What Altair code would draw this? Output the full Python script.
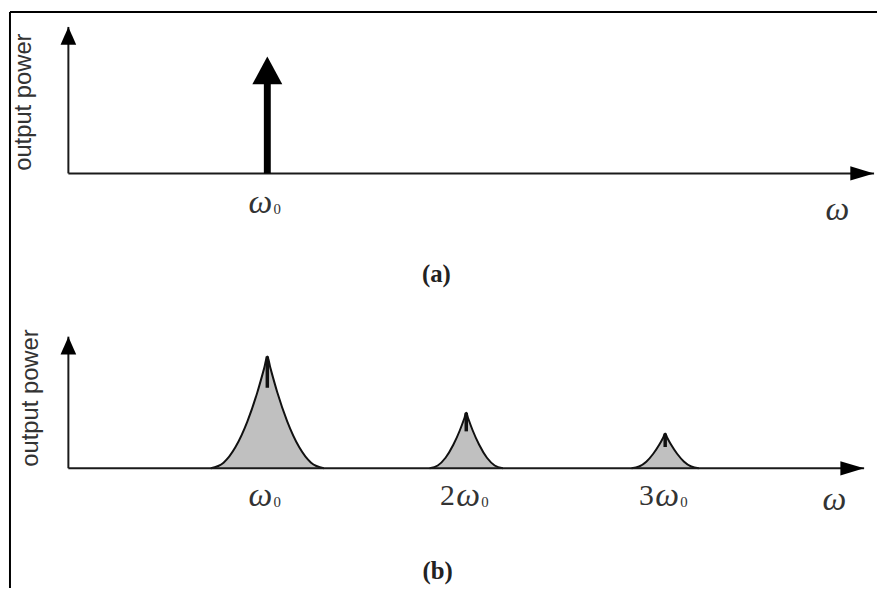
import altair as alt
import pandas as pd

# ---------------- data (x in units of ω0, y = relative output power) ----------------
# panel (a): ideal single spectral line at ω0
a_line_x = [1.0]
a_line_top = [1.0]
a_line_shaft_top = [0.77]
a_axis_xmax = 4.05
a_axis_ymax = 1.254

# panel (b): broadened harmonics at ω0, 2ω0, 3ω0
b_peak1_x = [0.716, 0.78, 0.84, 0.90, 0.95, 0.985, 1.0, 1.015, 1.05, 1.10, 1.16, 1.22, 1.284]
b_peak1_y = [0, 0.05, 0.19, 0.42, 0.68, 0.90, 1.0, 0.90, 0.68, 0.42, 0.19, 0.05, 0]
b_peak2_x = [1.816, 1.857, 1.896, 1.935, 1.968, 1.990, 2.0, 2.010, 2.032, 2.065, 2.104, 2.143, 2.184]
b_peak2_y = [0, 0.025, 0.094, 0.21, 0.34, 0.445, 0.496, 0.445, 0.34, 0.21, 0.094, 0.025, 0]
b_peak3_x = [2.831, 2.869, 2.905, 2.940, 2.970, 2.991, 3.0, 3.009, 3.030, 3.060, 3.095, 3.131, 3.169]
b_peak3_y = [0, 0.016, 0.059, 0.13, 0.21, 0.278, 0.31, 0.278, 0.21, 0.13, 0.059, 0.016, 0]
b_spike_x = [1.0, 2.0, 3.0]
b_spike_top = [1.0, 0.496, 0.31]
b_spike_base = [0.72, 0.33, 0.19]
b_axis_xmax = 4.0
b_axis_ymax = 1.177

# tick labels
harm_x = [1, 2, 3]
harm_coef = ["", "2", "3"]
y_title = "output power"
x_title = "ω"
captions = ["(a)", "(b)"]

# ---------------- layout / style ----------------
W = 870
HA, HB = 292, 290
XS = alt.Scale(domain=[-0.3035, 4.025], nice=False, zero=False)
YSA = alt.Scale(domain=[-1.092, 1.382], nice=False, zero=False)
YSB = alt.Scale(domain=[-1.071, 1.496], nice=False, zero=False)

UP = "M0,0L-0.44,1L0.44,1Z"
BIG_UP = "M0,0L-0.54,1L0.54,1Z"
RIGHT = "M0,0L-1,-0.3L-1,0.3Z"
AXC = "#1a1a1a"
SERIF = "Liberation Serif"


def X(field="x"):
    return alt.X(f"{field}:Q", scale=XS, axis=None)


def text_at(txt, pos, ys, **style):
    return alt.Chart(pd.DataFrame({"t": [txt]})).mark_text(**style).encode(
        x=alt.X("px:Q", scale=XS, axis=None), y=alt.Y("py:Q", scale=ys, axis=None), text="t:N"
    ).transform_calculate(px=str(pos[0]), py=str(pos[1]))


def panel(ys, h, axis_xmax, axis_ymax, caption, ytitle_pos, xtitle_pos, caption_pos, top_border):
    Y = lambda f: alt.Y(f"{f}:Q", scale=ys, axis=None)
    layers = []
    one = pd.DataFrame({"k": [0]})
    layers.append(alt.Chart(one).mark_rule(color="black", strokeWidth=2).encode(
        x=alt.value(2), y=alt.value(0), y2=alt.value(h)))
    if top_border:
        layers.append(alt.Chart(one).mark_rule(color="black", strokeWidth=2).encode(
            x=alt.value(2), x2=alt.value(W + 8), y=alt.value(0)))
    ax = pd.DataFrame({"x0": [0.0], "y0": [0.0], "xm": [axis_xmax], "ym": [axis_ymax]})
    base = alt.Chart(ax)
    layers.append(base.mark_rule(color=AXC, strokeWidth=2).encode(
        x=X("x0"), y=Y("y0"), y2=alt.Y2("ym:Q")))
    layers.append(base.mark_rule(color=AXC, strokeWidth=2).encode(
        x=X("x0"), x2=alt.X2("xm:Q"), y=Y("y0")))
    layers.append(base.mark_point(shape=UP, filled=True, size=1296, color="black", opacity=1, strokeWidth=0).encode(
        x=X("x0"), y=Y("ym")))
    layers.append(base.mark_point(shape=RIGHT, filled=True, size=2304, color="black", opacity=1, strokeWidth=0).encode(
        x=X("xm"), y=Y("y0")))
    layers.append(text_at(y_title, ytitle_pos, ys, angle=270, font="Liberation Sans", fontSize=24,
                          color="#333", align="center", baseline="middle"))
    layers.append(text_at(x_title, xtitle_pos, ys, font=SERIF, fontStyle="italic", fontSize=34,
                          color="#333", align="center", baseline="middle"))
    layers.append(text_at(caption, caption_pos, ys, font=SERIF, fontWeight="bold", fontSize=25,
                          color="#222", align="center", baseline="middle"))
    return layers, Y


def harmonic_labels(df, ys, level):
    out = []
    ch = alt.Chart(df).transform_calculate(ly=str(level))
    Y = alt.Y("ly:Q", scale=ys, axis=None)
    plain = ch.transform_filter("datum.coef == ''")
    mult = ch.transform_filter("datum.coef != ''")
    wstyle = dict(font=SERIF, fontStyle="italic", fontSize=34, color="#333", baseline="middle", align="center")
    sstyle = dict(font=SERIF, fontSize=15, color="#333", baseline="middle", align="center")
    out.append(plain.mark_text(dx=-7, **wstyle).encode(x=X(), y=Y, text=alt.value("ω")))
    out.append(plain.mark_text(dx=10, dy=6, **sstyle).encode(x=X(), y=Y, text=alt.value("0")))
    out.append(mult.mark_text(dx=-19, font=SERIF, fontSize=30, color="#333", baseline="middle", align="center").encode(
        x=X(), y=Y, text="coef:N"))
    out.append(mult.mark_text(dx=2, **wstyle).encode(x=X(), y=Y, text=alt.value("ω")))
    out.append(mult.mark_text(dx=19, dy=6, **sstyle).encode(x=X(), y=Y, text=alt.value("0")))
    return out


# ---------------- panel (a) ----------------
la, YA = panel(YSA, HA, a_axis_xmax, a_axis_ymax, captions[0], (-0.224, 0.61), (3.866, -0.31),
               (1.85, -0.864), True)
line_df = pd.DataFrame({"x": a_line_x, "top": a_line_top, "shaft": a_line_shaft_top, "zero": [0.0] * len(a_line_x)})
la.append(alt.Chart(line_df).mark_rule(color="black", strokeWidth=7).encode(
    x=X(), y=YA("zero"), y2=alt.Y2("shaft:Q")))
la.append(alt.Chart(line_df).mark_point(shape=BIG_UP, filled=True, size=3136, color="black", opacity=1, strokeWidth=0).encode(
    x=X(), y=YA("top")))
harm_df = pd.DataFrame({"x": harm_x, "coef": harm_coef})
la += harmonic_labels(harm_df.iloc[:1], YSA, -0.255)
chart_a = alt.layer(*la).properties(width=W, height=HA)

# ---------------- panel (b) ----------------
lb, YB = panel(YSB, HB, b_axis_xmax, b_axis_ymax, captions[1], (-0.189, 0.628), (3.85, -0.283),
               (1.856, -0.92), False)
peak_layers = []
for px_, py_ in [(b_peak1_x, b_peak1_y), (b_peak2_x, b_peak2_y), (b_peak3_x, b_peak3_y)]:
    d = pd.DataFrame({"x": px_, "y": py_, "base": [0.0] * len(px_)})
    c = alt.Chart(d)
    peak_layers.append(c.mark_area(interpolate="monotone", opacity=1).encode(
        x=X(), y=alt.Y("y:Q", scale=YSB, axis=None, stack=None), y2=alt.Y2("base:Q"),
        fill=alt.value("#c0c0c0")))
    peak_layers.append(c.mark_line(interpolate="monotone", color="#111", strokeWidth=2).encode(
        x=X(), y=alt.Y("y:Q", scale=YSB, axis=None)))
spikes = alt.Chart(pd.DataFrame({"x": b_spike_x, "top": b_spike_top, "base": b_spike_base})).mark_rule(
    color="#111", strokeWidth=3.5).encode(x=X(), y=YB("base"), y2=alt.Y2("top:Q"))
lb = lb[:1] + peak_layers + [spikes] + lb[1:]
lb += harmonic_labels(harm_df, YSB, -0.25)
chart_b = alt.layer(*lb).properties(width=W, height=HB)

chart = alt.vconcat(chart_a, chart_b, spacing=0, bounds="flush").properties(
    padding=0, background="white"
).configure_view(stroke="transparent", strokeWidth=0)

chart.save("out.html", embed_options={"renderer": "svg", "actions": False})
